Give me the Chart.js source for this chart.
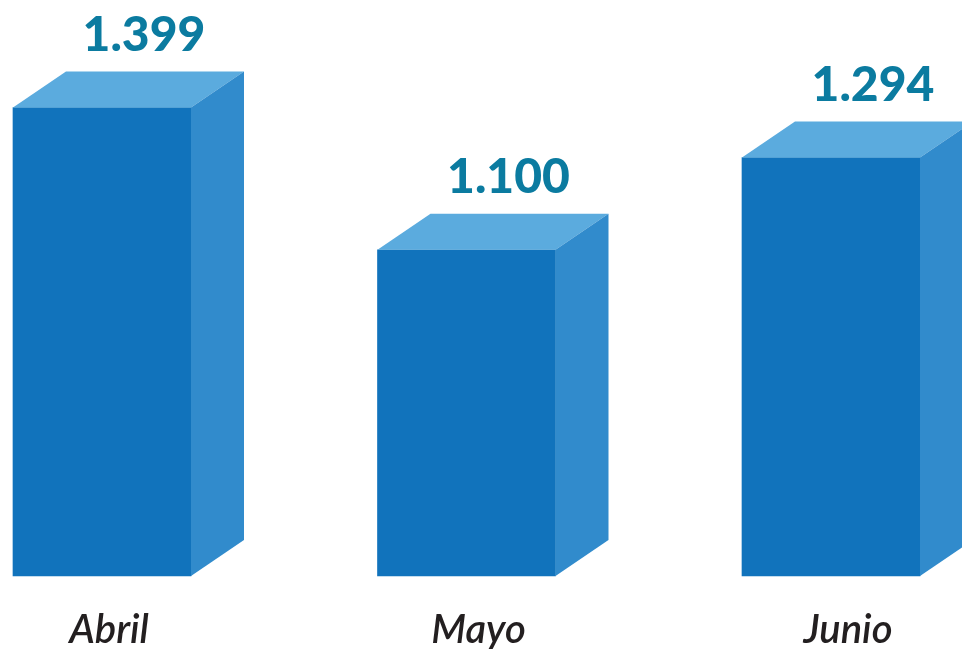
<!DOCTYPE html>
<html>
<head>
<meta charset="utf-8">
<script src="https://cdn.jsdelivr.net/npm/chart.js@4"></script>
<style>
    html, body { margin: 0; padding: 0; background: #ffffff; }
    #caja { width: 962px; height: 649px; position: relative; }
</style>
</head>
<body>
<div id="caja"><canvas id="grafico"></canvas></div>
<script>
let meses = ['Abril', 'Mayo', 'Junio']
let valores = [1399, 1100, 1294]

let ejeMin = 415
let ejeMax = 1482

// colores de las caras del bloque
let colorFrente = '#1173bc'
let colorArriba = '#5babde'
let colorLado = '#318bcc'
let colorValor = '#0b7ba0'
let colorMes = '#231f20'

let fondoX = 53
let fondoY = 36

function formatear(v) {
    return String(v).replace(/\B(?=(\d{3})+(?!\d))/g, '.')
}

const bloques3d = {
    id: 'bloques3d',
    afterDatasetsDraw(chart) {
        let ctx = chart.ctx
        let barras = chart.getDatasetMeta(0).data
        ctx.save()
        barras.forEach((b, i) => {
            let izq = b.x - b.width / 2
            let der = b.x + b.width / 2
            // cara superior
            ctx.fillStyle = colorArriba
            ctx.beginPath()
            ctx.moveTo(izq, b.y)
            ctx.lineTo(izq + fondoX, b.y - fondoY)
            ctx.lineTo(der + fondoX, b.y - fondoY)
            ctx.lineTo(der, b.y)
            ctx.closePath()
            ctx.fill()
            // cara lateral
            ctx.fillStyle = colorLado
            ctx.beginPath()
            ctx.moveTo(der, b.y)
            ctx.lineTo(der + fondoX, b.y - fondoY)
            ctx.lineTo(der + fondoX, b.base - fondoY)
            ctx.lineTo(der, b.base)
            ctx.closePath()
            ctx.fill()
            // valor
            ctx.fillStyle = colorValor
            ctx.font = '900 48px Lato'
            ctx.textAlign = 'center'
            ctx.textBaseline = 'alphabetic'
            ctx.fillText(formatear(valores[i]), b.x + 42, b.y - fondoY - 21)
            // mes
            ctx.fillStyle = colorMes
            ctx.font = 'italic 600 40px Lato'
            ctx.fillText(meses[i], b.x + 7 + i * 5, 643)
        })
        ctx.restore()
    }
}

new Chart(document.getElementById('grafico'), {
    type: 'bar',
    data: {
        labels: meses,
        datasets: [{
            data: valores,
            base: ejeMin,
            backgroundColor: colorFrente,
            borderWidth: 0,
            barThickness: 178,
            clip: false
        }]
    },
    options: {
        responsive: true,
        maintainAspectRatio: false,
        animation: false,
        layout: { padding: { top: 68, bottom: 73, left: 102, right: 131 } },
        plugins: { legend: { display: false }, tooltip: { enabled: false } },
        scales: {
            x: { display: false, offset: false, grid: { offset: false } },
            y: { display: false, min: ejeMin, max: ejeMax }
        }
    },
    plugins: [bloques3d]
})
</script>
</body>
</html>
